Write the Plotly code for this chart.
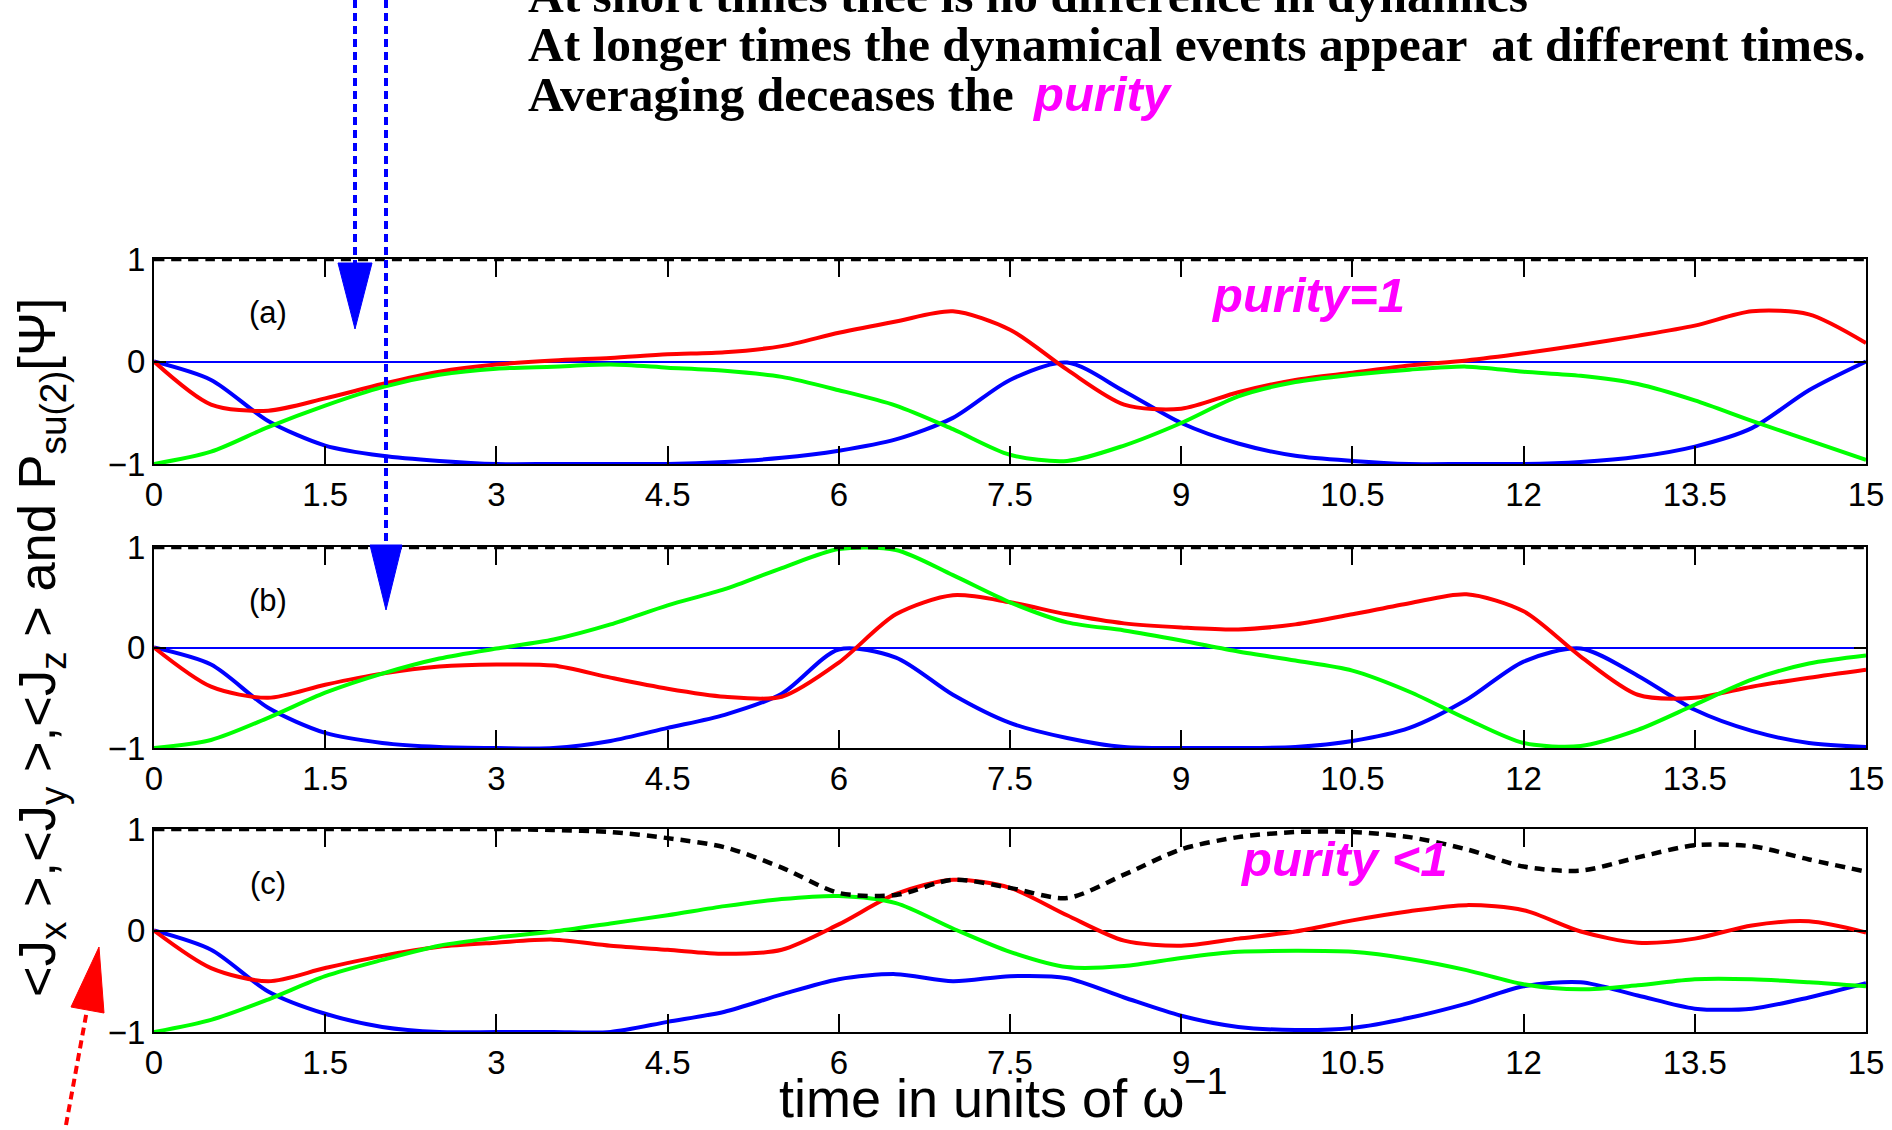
import plotly.graph_objects as go

# ---------------- data ----------------
t = [0.0, 0.5, 1.0, 1.5, 2.0, 2.5, 3.0, 3.5, 4.0, 4.5, 5.0, 5.5, 6.0, 6.5, 7.0, 7.5,
     8.0, 8.5, 9.0, 9.5, 10.0, 10.5, 11.0, 11.5, 12.0, 12.5, 13.0, 13.5, 14.0, 14.5, 15.0]

# panel (a)
blue_a = [0.0, -0.18, -0.58, -0.82, -0.92, -0.97, -1.0, -1.0, -1.0, -1.0, -0.98, -0.94, -0.87, -0.76, -0.55, -0.18,
          -0.01, -0.29, -0.6, -0.8, -0.92, -0.97, -1.0, -1.0, -1.0, -0.98, -0.93, -0.83, -0.65, -0.28, 0.0]
red_a = [0.0, -0.42, -0.48, -0.36, -0.22, -0.1, -0.03, 0.01, 0.035, 0.07, 0.09, 0.15, 0.28, 0.39, 0.49, 0.31,
         -0.08, -0.42, -0.46, -0.3, -0.18, -0.11, -0.04, 0.01, 0.08, 0.16, 0.25, 0.35, 0.49, 0.46, 0.18]
green_a = [-1.0, -0.88, -0.64, -0.43, -0.25, -0.13, -0.07, -0.05, -0.03, -0.06, -0.09, -0.15, -0.28, -0.43, -0.66, -0.91,
           -0.97, -0.82, -0.6, -0.34, -0.2, -0.13, -0.08, -0.05, -0.1, -0.14, -0.22, -0.38, -0.58, -0.77, -0.96]
purity_a = [1.0, 1.0, 1.0, 1.0, 1.0, 1.0, 1.0, 1.0, 1.0, 1.0, 1.0, 1.0, 1.0, 1.0, 1.0, 1.0,
            1.0, 1.0, 1.0, 1.0, 1.0, 1.0, 1.0, 1.0, 1.0, 1.0, 1.0, 1.0, 1.0, 1.0, 1.0]

# panel (b)
blue_b = [0.0, -0.17, -0.6, -0.85, -0.95, -0.99, -1.0, -1.0, -0.93, -0.8, -0.67, -0.46, -0.02, -0.1, -0.47, -0.75,
          -0.9, -0.99, -1.0, -1.0, -0.99, -0.93, -0.8, -0.52, -0.14, -0.01, -0.28, -0.62, -0.83, -0.95, -0.99]
red_b = [0.0, -0.39, -0.5, -0.37, -0.26, -0.19, -0.17, -0.18, -0.3, -0.41, -0.49, -0.49, -0.15, 0.33, 0.52, 0.45,
         0.33, 0.24, 0.2, 0.18, 0.23, 0.33, 0.44, 0.53, 0.36, -0.09, -0.47, -0.5, -0.39, -0.3, -0.22]
green_b = [-1.0, -0.92, -0.7, -0.45, -0.26, -0.11, -0.01, 0.08, 0.23, 0.42, 0.58, 0.79, 0.98, 0.97, 0.72, 0.45,
           0.25, 0.17, 0.07, -0.04, -0.13, -0.23, -0.44, -0.71, -0.95, -0.98, -0.82, -0.57, -0.32, -0.16, -0.08]
purity_b = [1.0, 1.0, 1.0, 1.0, 1.0, 1.0, 1.0, 1.0, 1.0, 1.0, 1.0, 1.0, 1.0, 1.0, 1.0, 1.0,
            1.0, 1.0, 1.0, 1.0, 1.0, 1.0, 1.0, 1.0, 1.0, 1.0, 1.0, 1.0, 1.0, 1.0, 1.0]

# panel (c)
blue_c = [0.0, -0.19, -0.6, -0.82, -0.95, -1.0, -1.0, -1.0, -1.0, -0.9, -0.8, -0.63, -0.48, -0.43, -0.5, -0.45,
          -0.47, -0.66, -0.84, -0.95, -0.98, -0.96, -0.86, -0.72, -0.55, -0.51, -0.64, -0.77, -0.77, -0.66, -0.52]
red_c = [0.0, -0.37, -0.5, -0.37, -0.25, -0.16, -0.12, -0.09, -0.15, -0.19, -0.23, -0.19, 0.06, 0.36, 0.5, 0.42,
         0.15, -0.1, -0.15, -0.08, -0.01, 0.1, 0.19, 0.25, 0.2, -0.01, -0.12, -0.08, 0.05, 0.09, -0.02]
green_c = [-1.0, -0.88, -0.68, -0.45, -0.29, -0.15, -0.07, -0.01, 0.07, 0.15, 0.24, 0.31, 0.34, 0.27, 0.02, -0.21,
           -0.36, -0.35, -0.27, -0.21, -0.2, -0.21, -0.28, -0.39, -0.53, -0.58, -0.54, -0.48, -0.48, -0.51, -0.55]
purity_c = [1.0, 1.0, 1.0, 1.0, 1.0, 1.0, 1.0, 0.99, 0.97, 0.91, 0.82, 0.62, 0.37, 0.35, 0.5, 0.42,
            0.32, 0.55, 0.8, 0.92, 0.97, 0.97, 0.92, 0.8, 0.63, 0.59, 0.72, 0.84, 0.83, 0.7, 0.58]

x_ticks = [0, 1.5, 3, 4.5, 6, 7.5, 9, 10.5, 12, 13.5, 15]
x_tick_labels = ["0", "1.5", "3", "4.5", "6", "7.5", "9", "10.5", "12", "13.5", "15"]
y_ticks = [-1, 0, 1]
y_tick_labels = ["\u22121", "0", "1"]
panel_labels = ["(a)", "(b)", "(c)"]
headline = ["At short times thee is no difference in dynamics",
            "At longer times the dynamical events appear  at different times.",
            "Averaging deceases the "]

W, H = 1892, 1130
def px(x):
    return x / W
def py(y):
    return 1 - y / H

BLUE, RED, GREEN = "#0000ff", "#ff0000", "#00ff00"
MAG = "#ff00ff"
SANS = "Liberation Sans, Arial, Helvetica, sans-serif"
SERIF = "Liberation Serif, Times New Roman, serif"

panels = [
    (blue_a, red_a, green_a, purity_a, BLUE),
    (blue_b, red_b, green_b, purity_b, BLUE),
    (blue_c, red_c, green_c, purity_c, "#000000"),
]
y_domains = [[py(464), py(259)], [py(748), py(547)], [py(1032), py(829)]]
x_domain = [px(154), px(1866)]

fig = go.Figure()
for i, (b, r, g, p, zc) in enumerate(panels):
    xa = "x" if i == 0 else f"x{i+1}"
    ya = "y" if i == 0 else f"y{i+1}"
    for vals, col in [(b, BLUE), (r, RED), (g, GREEN)]:
        fig.add_trace(go.Scatter(x=t, y=vals, mode="lines", xaxis=xa, yaxis=ya,
                                 line=dict(color=col, width=4, shape="spline", smoothing=0.8),
                                 showlegend=False, hoverinfo="skip"))
    fig.add_trace(go.Scatter(x=t, y=p, mode="lines", xaxis=xa, yaxis=ya,
                             line=dict(color="#000000", width=4.5, dash="10px,7px", shape="spline", smoothing=0.8),
                             showlegend=False, hoverinfo="skip"))
    axis_common = dict(showline=True, linecolor="#000000", linewidth=2, mirror="ticks",
                       ticks="inside", tickcolor="#000000", tickwidth=2,
                       showgrid=False, tickfont=dict(family=SANS, size=33, color="#000000"))
    fig.layout[("xaxis" if i == 0 else f"xaxis{i+1}")] = dict(
        domain=x_domain, range=[0, 15], anchor=ya, tickvals=x_ticks, ticktext=x_tick_labels,
        ticklen=18, zeroline=False, **axis_common)
    fig.layout[("yaxis" if i == 0 else f"yaxis{i+1}")] = dict(
        domain=y_domains[i], range=[-1, 1], anchor=xa, tickvals=y_ticks, ticktext=y_tick_labels,
        ticklen=12, zeroline=True, zerolinecolor=zc, zerolinewidth=2, **axis_common)

annotations = []
# panel labels
for i, (lab, ty) in enumerate(zip(panel_labels, [0.48, 0.47, 0.46])):
    xa = "x" if i == 0 else f"x{i+1}"
    ya = "y" if i == 0 else f"y{i+1}"
    annotations.append(dict(x=1.0, y=ty, xref=xa, yref=ya, text=lab, showarrow=False,
                            xanchor="center", yanchor="middle",
                            font=dict(family=SANS, size=31, color="#000000")))
annotations.append(dict(x=10.11, y=0.65, xref="x", yref="y", text="<b><i>purity=1</i></b>",
                        xanchor="center", yanchor="middle",
                        showarrow=False, font=dict(family=SANS, size=49, color=MAG)))
annotations.append(dict(x=10.43, y=0.70, xref="x3", yref="y3", text="<b><i>purity &lt;1</i></b>",
                        xanchor="center", yanchor="middle",
                        showarrow=False, font=dict(family=SANS, size=49, color=MAG)))
# headline lines
for txt, base in zip(headline, [13, 62, 112]):
    annotations.append(dict(x=px(526), y=py(base + 12), xref="paper", yref="paper", xanchor="left",
                            yanchor="bottom", text=f"<b>{txt}</b>", showarrow=False,
                            font=dict(family=SERIF, size=49.5, color="#000000")))
annotations.append(dict(x=px(1030), y=py(112 + 11), xref="paper", yref="paper", xanchor="left",
                        yanchor="bottom", text="<b><i>purity</i></b>", showarrow=False,
                        font=dict(family=SANS, size=49, color=MAG)))
# axis titles
annotations.append(dict(x=px(40), y=py(648), xref="paper", yref="paper", textangle=-90,
                        xanchor="center", yanchor="middle",
                        text="&lt;J<sub>x</sub> &gt;,&lt;J<sub>y</sub> &gt;,&lt;J<sub>z</sub> &gt; and P<sub>su(2)</sub>[\u03a8]",
                        showarrow=False, font=dict(family=SANS, size=52.5, color="#000000")))
annotations.append(dict(x=px(1003), y=0.0, xref="paper", yref="paper", xanchor="center", yanchor="bottom",
                        text="time in units of \u03c9<sup>\u22121</sup>", showarrow=False,
                        font=dict(family=SANS, size=54, color="#000000")))

shapes = [
    # blue dotted arrows
    dict(type="line", xref="paper", yref="paper", x0=px(355), x1=px(355), y0=1.0, y1=py(263),
         line=dict(color=BLUE, width=4, dash="8px,5px"), layer="above"),
    dict(type="path", xref="paper", yref="paper",
         path=f"M {px(338)} {py(263)} L {px(372)} {py(263)} L {px(355)} {py(329)} Z",
         fillcolor=BLUE, line=dict(color=BLUE, width=1), layer="above"),
    dict(type="line", xref="paper", yref="paper", x0=px(386), x1=px(386), y0=1.0, y1=py(545),
         line=dict(color=BLUE, width=4, dash="8px,5px"), layer="above"),
    dict(type="path", xref="paper", yref="paper",
         path=f"M {px(370)} {py(545)} L {px(402)} {py(545)} L {px(386)} {py(610)} Z",
         fillcolor=BLUE, line=dict(color=BLUE, width=1), layer="above"),
    # red dotted arrow
    dict(type="line", xref="paper", yref="paper", x0=px(66), x1=px(87), y0=py(1125), y1=py(1010),
         line=dict(color=RED, width=4, dash="8px,5px"), layer="above"),
    dict(type="path", xref="paper", yref="paper",
         path=f"M {px(71)} {py(1007)} L {px(104)} {py(1013)} L {px(99)} {py(947)} Z",
         fillcolor=RED, line=dict(color=RED, width=1), layer="above"),
]

fig.update_layout(width=W, height=H, autosize=False,
                  margin=dict(l=0, r=0, t=0, b=0, pad=0, autoexpand=False),
                  paper_bgcolor="#ffffff", plot_bgcolor="#ffffff",
                  annotations=annotations, shapes=shapes, showlegend=False)

fig.write_html("out.html")
